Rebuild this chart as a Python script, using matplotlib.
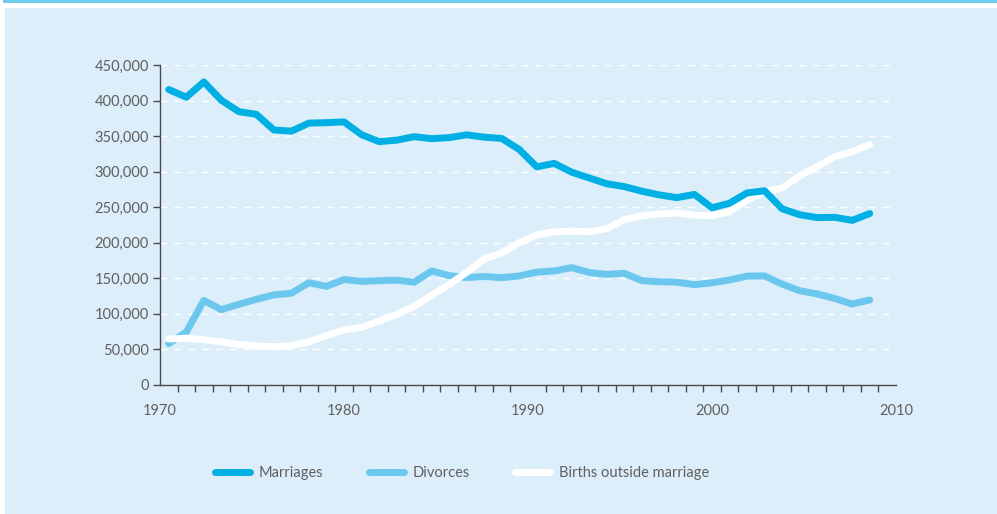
import numpy as np
import matplotlib
matplotlib.use("Agg")
import matplotlib.pyplot as plt
from matplotlib.patches import Rectangle

years = list(range(1970, 2011))
marriages = [415500, 404700, 426200, 400400, 384400, 380600, 358600, 357000, 368300, 368900,
             370000, 352000, 342200, 344300, 349200, 346400, 347900, 351800, 348500, 346700,
             331200, 306800, 311600, 299200, 291100, 283000, 279000, 272500, 267300, 263500,
             268000, 249200, 255600, 270100, 273100, 247800, 239500, 235400, 235800, 231500,
             241100]
divorces = [58200, 74400, 119000, 106000, 113500, 120500, 126700, 129100, 143700, 138700,
            148300, 145700, 146700, 147500, 144500, 160300, 153900, 151000, 152600, 150900,
            153400, 158700, 160400, 165000, 158200, 155500, 157100, 146700, 145200, 144600,
            141100, 143800, 147700, 153100, 153400, 141800, 132600, 128100, 121700, 113900,
            119600]
births = [64700, 65700, 63700, 60500, 57000, 54900, 53800, 55400, 60600, 69500,
          77400, 81000, 89900, 99200, 110500, 126200, 141300, 158400, 177400, 185500,
          200000, 211300, 215200, 216500, 215500, 219900, 232700, 237900, 240600, 241900,
          238600, 238100, 243400, 260000, 272000, 277000, 294000, 307000, 321000, 328000,
          338000]
x_labels = ["1970", "1980", "1990", "2000", "2010"]
y_ticks = list(range(0, 450001, 50000))

plt.rcParams['font.family'] = ['Lato', 'DejaVu Sans']
text_col = '#606060'
axis_col = '#4a4a4a'

fig = plt.figure(figsize=(9.97, 5.14), dpi=100, facecolor='white')
# background panel and top stripe
fig.patches.append(Rectangle((5 / 997, 0), 1, 506 / 514, transform=fig.transFigure,
                             facecolor='#dbeef9', edgecolor='none', zorder=-10))
fig.patches.append(Rectangle((3 / 997, 511 / 514), 1, 3 / 514, transform=fig.transFigure,
                             facecolor='#6ecbf0', edgecolor='none', zorder=-10))

ax = fig.add_axes([160 / 997, 129 / 514, 736 / 997, 320 / 514])
ax.set_facecolor('none')

ax.plot(years, divorces, color='#6cc7ef', lw=5, solid_capstyle='round',
        solid_joinstyle='round', label='Divorces', zorder=3)
ax.plot(years, births, color='white', lw=5, solid_capstyle='round',
        solid_joinstyle='round', label='Births outside marriage', zorder=4)
ax.plot(years, marriages, color='#00afe3', lw=5, solid_capstyle='round',
        solid_joinstyle='round', label='Marriages', zorder=5)

ax.set_xlim(1969.5, 2011.5)
ax.set_ylim(0, 450000)

ax.set_yticks(y_ticks)
ax.set_yticklabels([f"{v:,}" for v in y_ticks])
ax.set_xticks(np.linspace(1969.5, 2011.5, 5))
ax.set_xticklabels(x_labels)
ax.set_xticks(np.arange(1969.5, 2012, 1), minor=True)

ax.tick_params(axis='y', length=5, width=1, color=axis_col, labelcolor=text_col,
               labelsize=10.5, pad=3)
ax.tick_params(axis='x', which='major', length=0, labelcolor=text_col, labelsize=10.5, pad=14)
ax.tick_params(axis='x', which='minor', length=5, width=1, color=axis_col)

for v in y_ticks[1:]:
    ax.axhline(v, color='white', lw=1, ls=(0, (5, 5)), zorder=1)

for s in ['top', 'right']:
    ax.spines[s].set_visible(False)
for s in ['left', 'bottom']:
    ax.spines[s].set_color(axis_col)
    ax.spines[s].set_linewidth(1)

handles, labels = ax.get_legend_handles_labels()
order = [2, 0, 1]
leg = fig.legend([handles[i] for i in order], [labels[i] for i in order],
                 loc='center left', bbox_to_anchor=(215 / 997, 1 - 473 / 514),
                 ncol=3, frameon=False, fontsize=10.5, handlelength=2.4,
                 handletextpad=0.6, columnspacing=3.1, borderaxespad=0, borderpad=0)
for t in leg.get_texts():
    t.set_color(text_col)

fig.savefig('out.png', dpi=100, facecolor='white')
